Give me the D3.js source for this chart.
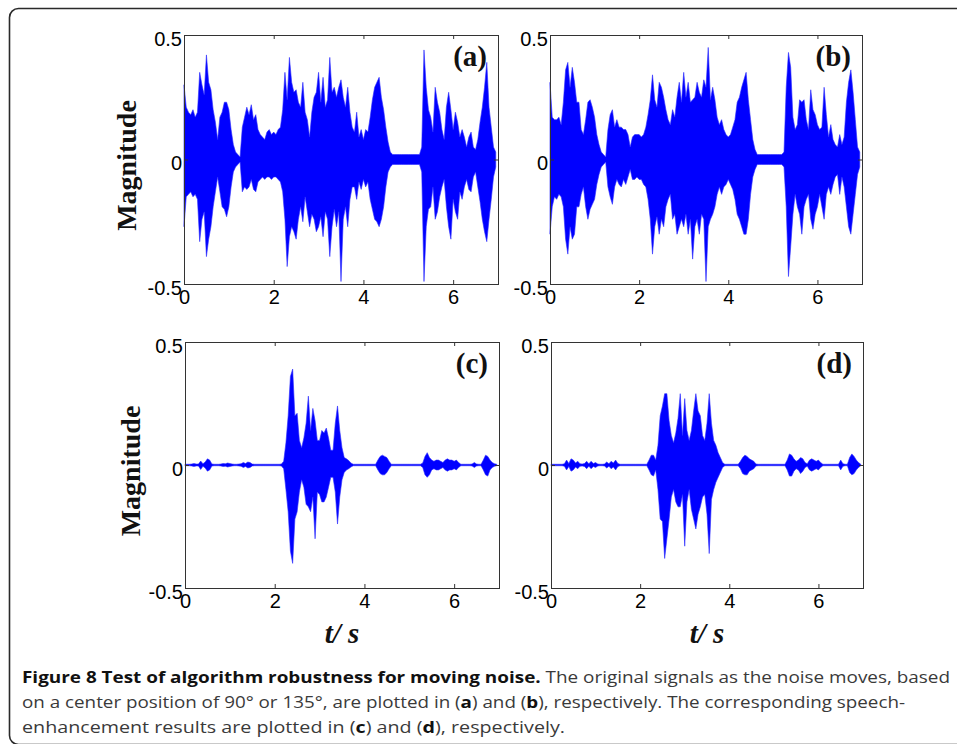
<!DOCTYPE html>
<html>
<head>
<meta charset="utf-8">
<script src="https://cdn.jsdelivr.net/npm/d3@7"></script>
<style>
  body { margin: 0; background: #fff; }
  svg { display: block; }
</style>
</head>
<body>
<svg id="fig" width="957" height="744"></svg>
<script>
// Sample spacing of the envelope series, in seconds
const dt = 0.05;

// Axis ranges and tick labels
const xDomain = [0, 7];
const yDomain = [-0.5, 0.5];
const xTicks = [0, 2, 4, 6];
const xTickLabels = ["0", "2", "4", "6"];
const yTicks = [-0.5, 0, 0.5];
const yTickLabels = ["-0.5", "0", "0.5"];
const panelLetters = ["(a)", "(b)", "(c)", "(d)"];
const yTitle = "Magnitude";

// (a) original signal, noise centred at 90°: peak envelope per 0.05 s
const aUpper = [
  0.30,0.21,0.19,0.18,0.20,0.17,0.19,0.35,0.30,0.26,
  0.42,0.31,0.28,0.20,0.15,0.08,0.17,0.19,0.23,0.23,
  0.20,0.12,0.06,0.03,0.02,0.01,0.13,0.17,0.21,0.18,
  0.22,0.16,0.18,0.12,0.10,0.09,0.08,0.11,0.12,0.10,
  0.11,0.10,0.12,0.13,0.20,0.35,0.24,0.41,0.31,0.27,
  0.28,0.23,0.21,0.31,0.19,0.16,0.09,0.19,0.25,0.27,
  0.35,0.23,0.33,0.21,0.24,0.41,0.27,0.29,0.25,0.29,
  0.32,0.25,0.21,0.29,0.19,0.13,0.11,0.19,0.09,0.12,
  0.08,0.12,0.11,0.17,0.24,0.29,0.31,0.33,0.25,0.20,
  0.13,0.07,0.03,0.02,0.02,0.02,0.02,0.02,0.02,0.02,
  0.02,0.02,0.02,0.02,0.02,0.02,0.05,0.44,0.29,0.20,
  0.17,0.11,0.29,0.23,0.19,0.12,0.08,0.21,0.27,0.20,
  0.12,0.19,0.15,0.09,0.12,0.09,0.05,0.09,0.11,0.05,
  0.04,0.08,0.15,0.21,0.29,0.39,0.21,0.13,0.05,0.03
];
const aLower = [
  -0.27,-0.15,-0.14,-0.13,-0.15,-0.14,-0.16,-0.33,-0.24,-0.21,
  -0.39,-0.32,-0.27,-0.19,-0.13,-0.07,-0.13,-0.19,-0.20,-0.23,
  -0.19,-0.11,-0.05,-0.03,-0.02,-0.01,-0.13,-0.11,-0.12,-0.11,
  -0.08,-0.12,-0.13,-0.09,-0.08,-0.07,-0.08,-0.07,-0.07,-0.08,
  -0.07,-0.07,-0.08,-0.09,-0.13,-0.24,-0.43,-0.31,-0.27,-0.29,
  -0.32,-0.24,-0.19,-0.25,-0.15,-0.21,-0.27,-0.22,-0.24,-0.29,
  -0.27,-0.23,-0.31,-0.21,-0.24,-0.39,-0.27,-0.20,-0.27,-0.21,
  -0.49,-0.24,-0.19,-0.27,-0.16,-0.11,-0.11,-0.16,-0.09,-0.12,
  -0.08,-0.11,-0.09,-0.16,-0.20,-0.24,-0.25,-0.27,-0.24,-0.19,
  -0.11,-0.05,-0.03,-0.02,-0.02,-0.02,-0.02,-0.02,-0.02,-0.02,
  -0.02,-0.02,-0.02,-0.02,-0.02,-0.02,-0.05,-0.49,-0.27,-0.20,
  -0.19,-0.11,-0.24,-0.21,-0.15,-0.11,-0.08,-0.19,-0.27,-0.32,
  -0.16,-0.21,-0.24,-0.13,-0.16,-0.11,-0.08,-0.12,-0.13,-0.07,
  -0.05,-0.11,-0.17,-0.24,-0.29,-0.33,-0.24,-0.16,-0.07,-0.03
];

// (b) original signal, noise centred at 135°
const bUpper = [
  0.31,0.17,0.16,0.16,0.17,0.14,0.23,0.36,0.39,0.29,
  0.37,0.31,0.23,0.23,0.12,0.10,0.16,0.23,0.24,0.21,
  0.17,0.10,0.06,0.03,0.02,0.01,0.12,0.18,0.20,0.13,
  0.16,0.13,0.13,0.12,0.12,0.10,0.05,0.09,0.10,0.10,
  0.10,0.09,0.10,0.13,0.18,0.24,0.34,0.24,0.21,0.31,
  0.29,0.25,0.20,0.16,0.14,0.20,0.17,0.25,0.31,0.23,
  0.35,0.25,0.31,0.23,0.24,0.25,0.31,0.27,0.25,0.32,
  0.29,0.45,0.24,0.29,0.24,0.17,0.14,0.16,0.12,0.10,
  0.09,0.10,0.13,0.16,0.23,0.25,0.29,0.32,0.35,0.24,
  0.16,0.08,0.04,0.02,0.02,0.02,0.02,0.02,0.02,0.02,
  0.02,0.02,0.02,0.02,0.02,0.03,0.29,0.43,0.37,0.17,
  0.12,0.14,0.24,0.23,0.24,0.16,0.12,0.28,0.20,0.18,
  0.14,0.12,0.13,0.29,0.18,0.09,0.14,0.08,0.06,0.05,
  0.10,0.06,0.09,0.23,0.31,0.36,0.27,0.16,0.05,0.03
];
const bLower = [
  -0.30,-0.19,-0.15,-0.16,-0.14,-0.15,-0.19,-0.32,-0.38,-0.27,
  -0.32,-0.30,-0.19,-0.19,-0.14,-0.11,-0.19,-0.24,-0.20,-0.18,
  -0.16,-0.10,-0.06,-0.03,-0.02,-0.01,-0.11,-0.15,-0.18,-0.11,
  -0.08,-0.10,-0.11,-0.08,-0.10,-0.07,-0.04,-0.08,-0.08,-0.07,
  -0.08,-0.08,-0.10,-0.11,-0.16,-0.24,-0.38,-0.27,-0.23,-0.30,
  -0.24,-0.27,-0.19,-0.16,-0.14,-0.24,-0.22,-0.30,-0.27,-0.24,
  -0.27,-0.22,-0.30,-0.24,-0.40,-0.27,-0.24,-0.30,-0.22,-0.24,
  -0.49,-0.27,-0.24,-0.22,-0.19,-0.14,-0.11,-0.14,-0.11,-0.10,
  -0.08,-0.10,-0.12,-0.16,-0.22,-0.24,-0.27,-0.30,-0.30,-0.24,
  -0.14,-0.07,-0.04,-0.02,-0.02,-0.02,-0.02,-0.02,-0.02,-0.02,
  -0.02,-0.02,-0.02,-0.02,-0.02,-0.03,-0.19,-0.47,-0.35,-0.22,
  -0.14,-0.19,-0.22,-0.30,-0.19,-0.16,-0.14,-0.24,-0.28,-0.22,
  -0.19,-0.14,-0.19,-0.24,-0.14,-0.11,-0.14,-0.10,-0.07,-0.06,
  -0.14,-0.07,-0.11,-0.19,-0.27,-0.30,-0.22,-0.14,-0.06,-0.03
];

// (c) enhanced output for (a)
const cUpper = [
  0.003,0.003,0.003,0.004,0.006,0.004,0.004,0.016,0.005,0.012,
  0.025,0.020,0.004,0.003,0.003,0.003,0.004,0.006,0.005,0.008,
  0.006,0.004,0.003,0.003,0.004,0.005,0.010,0.006,0.012,0.010,
  0.004,0.003,0.003,0.003,0.003,0.003,0.003,0.003,0.003,0.003,
  0.003,0.003,0.003,0.004,0.015,0.09,0.20,0.36,0.39,0.20,
  0.21,0.10,0.07,0.11,0.17,0.28,0.14,0.23,0.18,0.10,
  0.10,0.14,0.13,0.15,0.11,0.06,0.06,0.17,0.24,0.14,
  0.07,0.03,0.025,0.018,0.008,0.003,0.003,0.003,0.003,0.003,
  0.003,0.003,0.003,0.003,0.003,0.003,0.020,0.035,0.040,0.035,
  0.030,0.015,0.003,0.003,0.003,0.003,0.003,0.003,0.003,0.003,
  0.003,0.003,0.003,0.003,0.003,0.003,0.008,0.035,0.050,0.030,
  0.020,0.015,0.020,0.020,0.015,0.010,0.020,0.025,0.020,0.020,
  0.015,0.020,0.010,0.003,0.003,0.003,0.003,0.003,0.004,0.010,
  0.004,0.003,0.003,0.020,0.040,0.035,0.020,0.010,0.005,0.003
];
const cLower = [
  -0.003,-0.003,-0.003,-0.004,-0.006,-0.004,-0.004,-0.018,-0.005,-0.012,
  -0.025,-0.020,-0.004,-0.003,-0.003,-0.003,-0.004,-0.006,-0.005,-0.008,
  -0.006,-0.004,-0.003,-0.003,-0.004,-0.005,-0.010,-0.006,-0.012,-0.010,
  -0.004,-0.003,-0.003,-0.003,-0.003,-0.003,-0.003,-0.003,-0.003,-0.003,
  -0.003,-0.003,-0.003,-0.004,-0.015,-0.10,-0.19,-0.35,-0.40,-0.22,
  -0.19,-0.11,-0.06,-0.09,-0.16,-0.17,-0.19,-0.13,-0.30,-0.11,
  -0.12,-0.15,-0.15,-0.13,-0.09,-0.05,-0.05,-0.11,-0.24,-0.13,
  -0.06,-0.03,-0.020,-0.015,-0.008,-0.003,-0.003,-0.003,-0.003,-0.003,
  -0.003,-0.003,-0.003,-0.003,-0.003,-0.003,-0.020,-0.035,-0.040,-0.040,
  -0.030,-0.015,-0.003,-0.003,-0.003,-0.003,-0.003,-0.003,-0.003,-0.003,
  -0.003,-0.003,-0.003,-0.003,-0.003,-0.003,-0.010,-0.040,-0.050,-0.040,
  -0.020,-0.015,-0.020,-0.020,-0.015,-0.010,-0.020,-0.025,-0.020,-0.020,
  -0.015,-0.020,-0.010,-0.003,-0.003,-0.003,-0.003,-0.003,-0.004,-0.010,
  -0.004,-0.003,-0.003,-0.020,-0.040,-0.045,-0.020,-0.010,-0.005,-0.003
];

// (d) enhanced output for (b)
const dUpper = [
  0.003,0.003,0.003,0.003,0.003,0.003,0.005,0.020,0.006,0.025,
  0.020,0.008,0.015,0.005,0.004,0.006,0.015,0.005,0.015,0.006,
  0.010,0.004,0.003,0.003,0.004,0.012,0.005,0.015,0.008,0.020,
  0.006,0.003,0.003,0.003,0.003,0.003,0.003,0.003,0.003,0.003,
  0.003,0.003,0.003,0.003,0.020,0.040,0.040,0.020,0.08,0.20,
  0.24,0.29,0.29,0.18,0.12,0.09,0.13,0.19,0.29,0.12,
  0.27,0.14,0.10,0.14,0.22,0.29,0.22,0.20,0.12,0.10,
  0.17,0.29,0.17,0.10,0.08,0.05,0.03,0.010,0.003,0.003,
  0.003,0.003,0.003,0.003,0.003,0.015,0.030,0.040,0.035,0.025,
  0.020,0.015,0.004,0.003,0.003,0.003,0.003,0.003,0.003,0.003,
  0.003,0.003,0.003,0.003,0.003,0.003,0.020,0.045,0.040,0.025,
  0.015,0.020,0.030,0.025,0.010,0.005,0.020,0.025,0.020,0.015,
  0.020,0.010,0.003,0.003,0.003,0.003,0.003,0.003,0.003,0.003,
  0.020,0.005,0.003,0.003,0.030,0.045,0.035,0.020,0.010,0.003
];
const dLower = [
  -0.003,-0.003,-0.003,-0.003,-0.003,-0.003,-0.005,-0.020,-0.006,-0.025,
  -0.020,-0.008,-0.015,-0.005,-0.004,-0.006,-0.015,-0.005,-0.015,-0.006,
  -0.010,-0.004,-0.003,-0.003,-0.004,-0.012,-0.005,-0.015,-0.008,-0.020,
  -0.006,-0.003,-0.003,-0.003,-0.003,-0.003,-0.003,-0.003,-0.003,-0.003,
  -0.003,-0.003,-0.003,-0.003,-0.020,-0.040,-0.045,-0.020,-0.10,-0.22,
  -0.23,-0.38,-0.30,-0.22,-0.13,-0.10,-0.15,-0.17,-0.17,-0.12,
  -0.33,-0.15,-0.10,-0.18,-0.22,-0.26,-0.20,-0.17,-0.13,-0.12,
  -0.20,-0.36,-0.14,-0.10,-0.07,-0.05,-0.03,-0.010,-0.003,-0.003,
  -0.003,-0.003,-0.003,-0.003,-0.003,-0.015,-0.035,-0.040,-0.040,-0.025,
  -0.020,-0.015,-0.004,-0.003,-0.003,-0.003,-0.003,-0.003,-0.003,-0.003,
  -0.003,-0.003,-0.003,-0.003,-0.003,-0.003,-0.020,-0.045,-0.045,-0.025,
  -0.015,-0.020,-0.035,-0.025,-0.010,-0.005,-0.020,-0.025,-0.020,-0.015,
  -0.020,-0.010,-0.003,-0.003,-0.003,-0.003,-0.003,-0.003,-0.003,-0.003,
  -0.020,-0.005,-0.003,-0.003,-0.030,-0.040,-0.035,-0.020,-0.010,-0.003
];

// Caption text, split into runs of bold / regular type
const captionLines = [
  [["b", "Figure 8 Test of algorithm robustness for moving noise."], ["r", " The original signals as the noise moves, based"]],
  [["r", "on a center position of 90° or 135°, are plotted in ("], ["b", "a"], ["r", ") and ("], ["b", "b"], ["r", "), respectively. The corresponding speech-"]],
  [["r", "enhancement results are plotted in ("], ["b", "c"], ["r", ") and ("], ["b", "d"], ["r", "), respectively."]]
];

// ---------------------------------------------------------------------------
const svg = d3.select("#fig");
const W = 957, H = 744;

svg.append("rect").attr("width", W).attr("height", H).attr("fill", "#fff");

// Rounded frame around the whole figure
svg.append("rect")
  .attr("x", 9.5).attr("y", 8.5)
  .attr("width", 1000).attr("height", 736)
  .attr("rx", 9).attr("ry", 9)
  .attr("fill", "none").attr("stroke", "#2a2a2a").attr("stroke-width", 1.6);

const panels = [
  { upper: aUpper, lower: aLower, x0: 184, x1: 498, y0: 35, y1: 284, row: 0 },
  { upper: bUpper, lower: bLower, x0: 550, x1: 862, y0: 35, y1: 284, row: 0 },
  { upper: cUpper, lower: cLower, x0: 185, x1: 499, y0: 342, y1: 588, row: 1 },
  { upper: dUpper, lower: dLower, x0: 551, x1: 863, y0: 342, y1: 588, row: 1 }
];

const tickFont = "'Liberation Sans', Arial, Helvetica, sans-serif";
const serif = "'Liberation Serif', 'Times New Roman', serif";

panels.forEach((p, k) => {
  const x = d3.scaleLinear().domain(xDomain).range([p.x0, p.x1]);
  const y = d3.scaleLinear().domain(yDomain).range([p.y1, p.y0]);
  const g = svg.append("g");

  // waveform envelope
  const pts = d3.zip(p.upper, p.lower);
  const area = d3.area()
    .x((d, i) => x(i * dt))
    .y0(d => y(d[1]))
    .y1(d => y(d[0]));
  g.append("path").datum(pts)
    .attr("d", area)
    .attr("fill", "#0000ff")
    .attr("stroke", "#2a2aff")
    .attr("stroke-width", 0.6)
    .attr("stroke-linejoin", "miter");

  // axes with inward ticks
  const fmtX = (d) => xTickLabels[xTicks.indexOf(d)];
  const fmtY = (d) => yTickLabels[yTicks.indexOf(d)];

  const ax = g.append("g").attr("transform", `translate(0,${p.y1})`)
    .call(d3.axisBottom(x).tickValues(xTicks).tickSize(-4).tickPadding(6).tickFormat(fmtX));
  g.append("g").attr("transform", `translate(0,${p.y0})`)
    .call(d3.axisTop(x).tickValues(xTicks).tickSize(-4).tickFormat(""));
  const ay = g.append("g").attr("transform", `translate(${p.x0},0)`)
    .call(d3.axisLeft(y).tickValues(yTicks).tickSize(-4).tickPadding(2).tickFormat(fmtY));
  g.append("g").attr("transform", `translate(${p.x1},0)`)
    .call(d3.axisRight(y).tickValues(yTicks).tickSize(-4).tickFormat(""));

  g.selectAll(".domain").remove();
  g.selectAll(".tick line").attr("stroke", "#333");
  g.selectAll(".tick text")
    .attr("fill", "#000")
    .style("font-family", tickFont)
    .style("font-size", "20px");
  ay.selectAll(".tick text").attr("dy", "0.52em");

  // box
  g.append("rect")
    .attr("x", p.x0 + 0.5).attr("y", p.y0 + 0.5)
    .attr("width", p.x1 - p.x0).attr("height", p.y1 - p.y0)
    .attr("fill", "none").attr("stroke", "#333").attr("stroke-width", 1);

  // panel letter
  g.append("text")
    .attr("x", p.x1 - 11).attr("y", p.y0 + 31)
    .attr("text-anchor", "end")
    .style("font-family", serif).style("font-weight", "bold").style("font-size", "29px")
    .attr("fill", "#111")
    .text(panelLetters[k]);

  // y title on the left column
  if (k % 2 === 0) {
    const cx = p.row === 0 ? 126 : 130;
    const cy = (p.y0 + p.y1) / 2 + 6;
    g.append("text")
      .attr("transform", `translate(${cx},${cy}) rotate(-90)`)
      .attr("text-anchor", "middle").attr("dy", "0.35em")
      .style("font-family", serif).style("font-weight", "bold").style("font-size", "28px")
      .attr("fill", "#111")
      .text(yTitle);
  }

  // x title under the bottom row
  if (p.row === 1) {
    const t = g.append("text")
      .attr("x", (p.x0 + p.x1) / 2).attr("y", p.y1 + 55)
      .attr("text-anchor", "middle")
      .style("font-family", serif).style("font-weight", "bold").style("font-style", "italic")
      .style("font-size", "29px").attr("fill", "#111");
    t.append("tspan").text("t");
    t.append("tspan").text("/ s");
  }
});

// Caption
const capWidths = [928, 883, 543];
captionLines.forEach((runs, i) => {
  const t = svg.append("text")
    .attr("x", 22).attr("y", 683 + i * 25)
    .attr("textLength", capWidths[i]).attr("lengthAdjust", "spacingAndGlyphs")
    .style("font-family", "'Open Sans', 'Noto Sans', sans-serif")
    .style("font-size", "16px");
  runs.forEach(([w, s]) => {
    t.append("tspan")
      .style("font-weight", w === "b" ? "bold" : "normal")
      .attr("fill", w === "b" ? "#111" : "#3a3a3a")
      .text(s);
  });
});
</script>
</body>
</html>
